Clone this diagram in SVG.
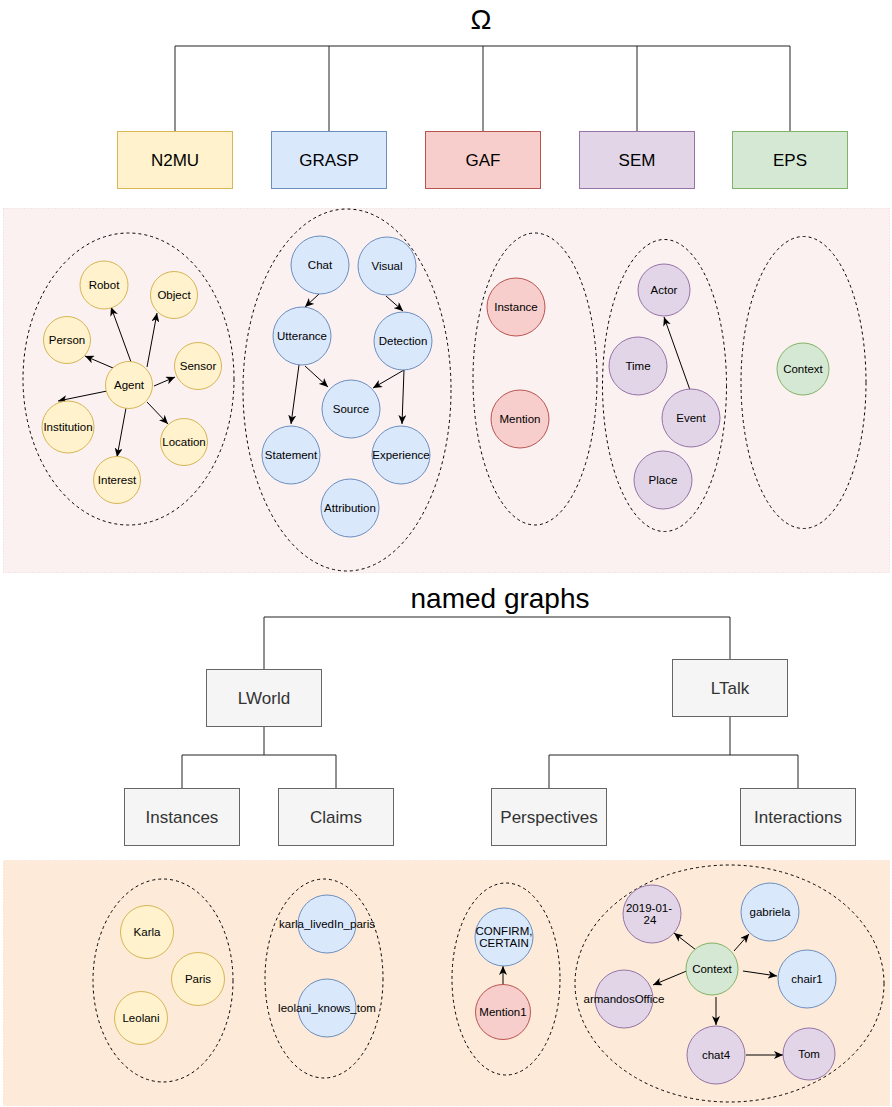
<svg xmlns="http://www.w3.org/2000/svg" width="892" height="1107" viewBox="0 0 892 1107">
  <style>
    text { font-family: "Liberation Sans", Arial, Helvetica, sans-serif; fill: #000; text-anchor: middle; dominant-baseline: central; }
    .title { font-size: 28px; }
    .box text { font-size: 17px; }
    .node text { font-size: 11.5px; }
    .gray rect { fill: #f5f5f5; stroke: #666666; }
    .gray text { fill: #333333; }
    .yellow { fill: #fff2cc; stroke: #d6b656; }
    .blue { fill: #dae8fc; stroke: #6c8ebf; }
    .red { fill: #f8cecc; stroke: #b85450; }
    .purple { fill: #e1d5e7; stroke: #9673a6; }
    .green { fill: #d5e8d4; stroke: #82b366; }
    .group { fill: none; stroke: #000; stroke-width: 1; stroke-dasharray: 3 3; }
    .tree { fill: none; stroke: #222; stroke-width: 1; }
    .edge { fill: none; stroke: #000; stroke-width: 1; marker-end: url(#arrow); }
  </style>
  <defs>
    <marker id="arrow" markerUnits="userSpaceOnUse" markerWidth="10" markerHeight="8" refX="9" refY="4" orient="auto">
      <path d="M0,0 L9,4 L0,8 L2.5,4 z" fill="#000"/>
    </marker>
  </defs>

  <rect width="892" height="1107" fill="#fff"/>

  <!-- background panels -->
  <rect id="ontology-panel" x="3.5" y="208.5" width="886" height="364" fill="#fcf1f1" stroke="#ecd2d2" stroke-dasharray="1 2"/>
  <rect id="graphs-panel" x="3.5" y="860.5" width="886" height="245" fill="#fdead8" stroke="#f3dcc6" stroke-dasharray="1 2"/>

  <!-- tree connectors -->
  <g id="connectors">
    <path class="tree" d="M175,131 V46 H790 V131 M329,46 V131 M483,46 V131 M637,46 V131"/>
    <path class="tree" d="M264,669 V617 H730 V659"/>
    <path class="tree" d="M264,726 V755 M182,788 V755 H336 V788"/>
    <path class="tree" d="M730,717 V755 M549,788 V755 H798 V788"/>

    <!-- N2MU edges -->
    <path class="edge" d="M131,362 L111,307"/>
    <path class="edge" d="M147,367 L157,313"/>
    <path class="edge" d="M113,368 L85,356"/>
    <path class="edge" d="M154,386 L175,377"/>
    <path class="edge" d="M107,391 L58,401"/>
    <path class="edge" d="M147,402 L168,424"/>
    <path class="edge" d="M126,408 L117,457"/>

    <!-- GRASP edges -->
    <path class="edge" d="M319,294 L305,307"/>
    <path class="edge" d="M386,296 L403,311"/>
    <path class="edge" d="M299,365 L291,424"/>
    <path class="edge" d="M305,366 L328,387"/>
    <path class="edge" d="M404,370 L373,388"/>
    <path class="edge" d="M404,370 L402,424"/>

    <!-- SEM edge -->
    <path class="edge" d="M690,390 L664,317"/>

    <!-- perspective edge -->
    <path class="edge" d="M503,985 L503,966"/>

    <!-- interaction edges -->
    <path class="edge" d="M696,950 L674,933"/>
    <path class="edge" d="M734,951 L749,934"/>
    <path class="edge" d="M743,971 L777,976"/>
    <path class="edge" d="M689,970 L653,985"/>
    <path class="edge" d="M716,997 L716,1025"/>
    <path class="edge" d="M746,1055 L783,1055"/>
  </g>

  <!-- headings -->
  <g id="omega"><text class="title" x="481" y="19">Ω</text></g>
  <g id="named-graphs"><text class="title" x="500" y="598">named graphs</text></g>

  <!-- ontology boxes -->
  <g id="n2mu" class="box"><rect class="yellow" x="117.5" y="131.5" width="115" height="57"/><text x="175" y="160">N2MU</text></g>
  <g id="grasp" class="box"><rect class="blue" x="271.5" y="131.5" width="115" height="57"/><text x="329" y="160">GRASP</text></g>
  <g id="gaf" class="box"><rect class="red" x="425.5" y="131.5" width="115" height="57"/><text x="483" y="160">GAF</text></g>
  <g id="sem" class="box"><rect class="purple" x="579.5" y="131.5" width="115" height="57"/><text x="637" y="160">SEM</text></g>
  <g id="eps" class="box"><rect class="green" x="732.5" y="131.5" width="115" height="57"/><text x="790" y="160">EPS</text></g>

  <!-- ontology groups -->
  <ellipse id="n2mu-group" class="group" cx="128.5" cy="379" rx="105.5" ry="146"/>
  <ellipse id="grasp-group" class="group" cx="347" cy="390" rx="104" ry="181"/>
  <ellipse id="gaf-group" class="group" cx="535" cy="379" rx="62" ry="146"/>
  <ellipse id="sem-group" class="group" cx="664.5" cy="385.5" rx="62" ry="146"/>
  <ellipse id="eps-group" class="group" cx="803.5" cy="382.5" rx="62.5" ry="146"/>

  <!-- N2MU classes -->
  <g id="robot" class="node"><circle class="yellow" cx="104" cy="285" r="24"/><text x="104" y="285">Robot</text></g>
  <g id="object" class="node"><circle class="yellow" cx="174" cy="295" r="23.5"/><text x="174" y="295">Object</text></g>
  <g id="person" class="node"><circle class="yellow" cx="67" cy="340" r="23.5"/><text x="67" y="340">Person</text></g>
  <g id="sensor" class="node"><circle class="yellow" cx="198" cy="366" r="23.5"/><text x="198" y="366">Sensor</text></g>
  <g id="agent" class="node"><circle class="yellow" cx="129" cy="385" r="23.5"/><text x="129" y="385">Agent</text></g>
  <g id="institution" class="node"><circle class="yellow" cx="68" cy="427" r="26"/><text x="68" y="427">Institution</text></g>
  <g id="location" class="node"><circle class="yellow" cx="184" cy="442" r="23.5"/><text x="184" y="442">Location</text></g>
  <g id="interest" class="node"><circle class="yellow" cx="117" cy="480" r="23.5"/><text x="117" y="480">Interest</text></g>

  <!-- GRASP classes -->
  <g id="chat" class="node"><circle class="blue" cx="320" cy="265" r="29"/><text x="320" y="265">Chat</text></g>
  <g id="visual" class="node"><circle class="blue" cx="387" cy="266" r="29"/><text x="387" y="266">Visual</text></g>
  <g id="utterance" class="node"><circle class="blue" cx="302" cy="336" r="29"/><text x="302" y="336">Utterance</text></g>
  <g id="detection" class="node"><circle class="blue" cx="403" cy="341" r="29"/><text x="403" y="341">Detection</text></g>
  <g id="source" class="node"><circle class="blue" cx="351" cy="409" r="29"/><text x="351" y="409">Source</text></g>
  <g id="statement" class="node"><circle class="blue" cx="291" cy="455" r="29"/><text x="291" y="455">Statement</text></g>
  <g id="experience" class="node"><circle class="blue" cx="401" cy="455" r="29"/><text x="401" y="455">Experience</text></g>
  <g id="attribution" class="node"><circle class="blue" cx="350" cy="508" r="29"/><text x="350" y="508">Attribution</text></g>

  <!-- GAF classes -->
  <g id="instance" class="node"><circle class="red" cx="516" cy="307" r="29"/><text x="516" y="307">Instance</text></g>
  <g id="mention" class="node"><circle class="red" cx="520" cy="419" r="29"/><text x="520" y="419">Mention</text></g>

  <!-- SEM classes -->
  <g id="actor" class="node"><circle class="purple" cx="664" cy="290" r="26"/><text x="664" y="290">Actor</text></g>
  <g id="time" class="node"><circle class="purple" cx="638" cy="366" r="29"/><text x="638" y="366">Time</text></g>
  <g id="event" class="node"><circle class="purple" cx="691" cy="418" r="29"/><text x="691" y="418">Event</text></g>
  <g id="place" class="node"><circle class="purple" cx="663" cy="480" r="29"/><text x="663" y="480">Place</text></g>

  <!-- EPS classes -->
  <g id="context-class" class="node"><circle class="green" cx="803" cy="369" r="26"/><text x="803" y="369">Context</text></g>

  <!-- named graph hierarchy -->
  <g id="lworld" class="box gray"><rect x="206.5" y="669.5" width="115" height="57"/><text x="264" y="698">LWorld</text></g>
  <g id="ltalk" class="box gray"><rect x="672.5" y="659.5" width="115" height="57"/><text x="730" y="688">LTalk</text></g>
  <g id="instances" class="box gray"><rect x="124.5" y="788.5" width="115" height="57"/><text x="182" y="817">Instances</text></g>
  <g id="claims" class="box gray"><rect x="278.5" y="788.5" width="115" height="57"/><text x="336" y="817">Claims</text></g>
  <g id="perspectives" class="box gray"><rect x="491.5" y="788.5" width="115" height="57"/><text x="549" y="817">Perspectives</text></g>
  <g id="interactions" class="box gray"><rect x="740.5" y="788.5" width="115" height="57"/><text x="798" y="817">Interactions</text></g>

  <!-- named graph groups -->
  <ellipse id="instances-group" class="group" cx="163" cy="980.5" rx="70" ry="101.5"/>
  <ellipse id="claims-group" class="group" cx="324" cy="978.5" rx="59" ry="99.5"/>
  <ellipse id="perspectives-group" class="group" cx="506" cy="979" rx="54" ry="96"/>
  <ellipse id="interactions-group" class="group" cx="729.5" cy="983.5" rx="154.5" ry="118.5"/>

  <!-- instances -->
  <g id="karla" class="node"><circle class="yellow" cx="147" cy="932" r="26.5"/><text x="147" y="932">Karla</text></g>
  <g id="paris" class="node"><circle class="yellow" cx="198" cy="979" r="26.5"/><text x="198" y="979">Paris</text></g>
  <g id="leolani" class="node"><circle class="yellow" cx="141" cy="1018" r="26.5"/><text x="141" y="1018">Leolani</text></g>

  <!-- claims -->
  <g id="karla-livedin-paris" class="node"><circle class="blue" cx="327" cy="924" r="29"/><text x="327" y="924">karla_livedIn_paris</text></g>
  <g id="leolani-knows-tom" class="node"><circle class="blue" cx="327" cy="1008" r="29"/><text x="327" y="1008">leolani_knows_tom</text></g>

  <!-- perspectives -->
  <g id="confirm-certain" class="node"><circle class="blue" cx="504" cy="937" r="29"/><text x="504" y="931">CONFIRM,</text><text x="504" y="943">CERTAIN</text></g>
  <g id="mention1" class="node"><circle class="red" cx="503" cy="1012" r="27.5"/><text x="503" y="1012">Mention1</text></g>

  <!-- interactions -->
  <g id="date" class="node"><circle class="purple" cx="652" cy="914" r="29"/><text x="649" y="908">2019-01-</text><text x="650" y="920">24</text></g>
  <g id="gabriela" class="node"><circle class="blue" cx="770" cy="912" r="29"/><text x="770" y="912">gabriela</text></g>
  <g id="context" class="node"><circle class="green" cx="712" cy="969" r="26"/><text x="712" y="969">Context</text></g>
  <g id="chair1" class="node"><circle class="blue" cx="807" cy="979" r="29"/><text x="807" y="979">chair1</text></g>
  <g id="armandos-office" class="node"><circle class="purple" cx="624" cy="999" r="29"/><text x="624" y="999">armandosOffice</text></g>
  <g id="chat4" class="node"><circle class="purple" cx="716" cy="1055" r="29"/><text x="716" y="1055">chat4</text></g>
  <g id="tom" class="node"><circle class="purple" cx="809" cy="1054" r="26"/><text x="809" y="1054">Tom</text></g>
</svg>
